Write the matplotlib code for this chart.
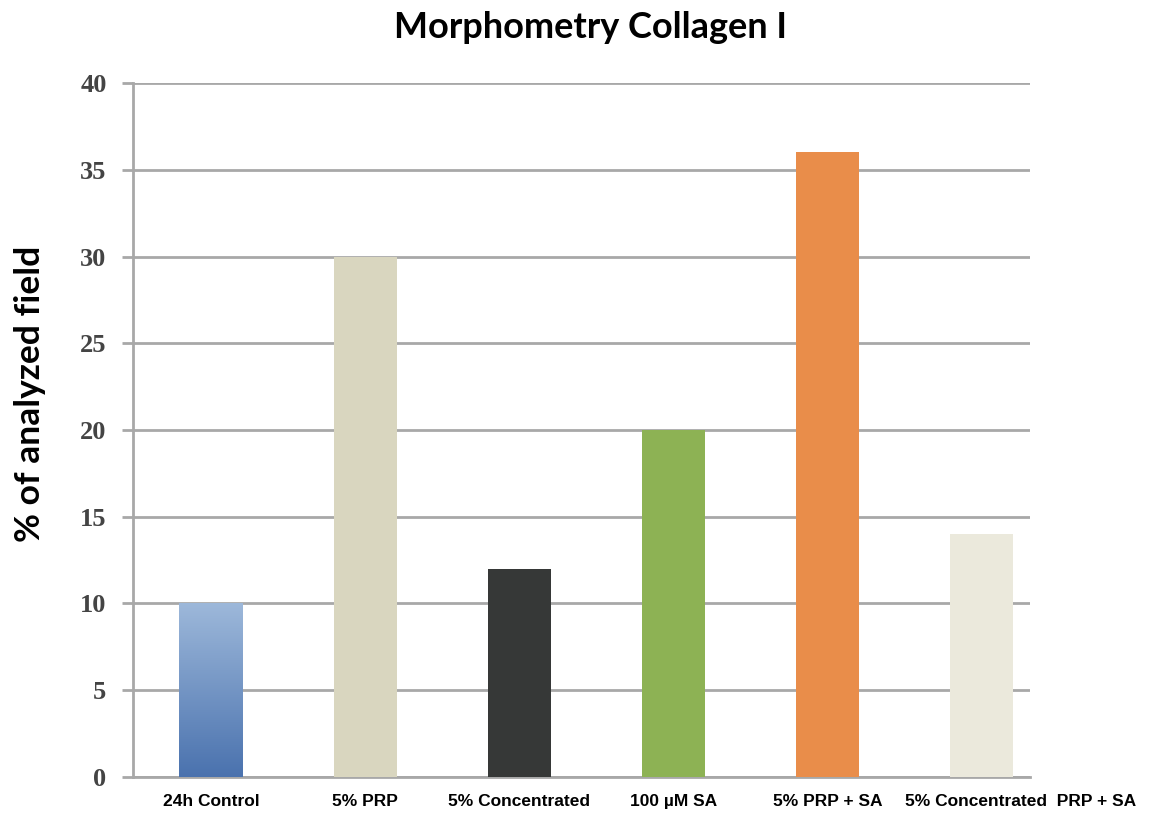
import numpy as np
import matplotlib.pyplot as plt
from matplotlib.colors import LinearSegmentedColormap

categories = ["24h Control", "5% PRP", "5% Concentrated", "100 \u00b5M SA",
              "5% PRP + SA", "5% Concentrated  PRP + SA"]
values = [10, 30, 12, 20, 36, 14]
colors = ["#6d8fc4", "#d9d6bf", "#363837", "#8db254", "#e98d4a", "#ebe9dc"]
yticks = [0, 5, 10, 15, 20, 25, 30, 35, 40]

fig = plt.figure(figsize=(11.53, 8.14), dpi=100)
ax = fig.add_axes([0.1153, 0.0455, 0.7777, 0.8525])

x = np.arange(len(categories))
bars = ax.bar(x, values, width=0.41, color=colors, zorder=3)

# blue gradient on the first bar
cmap = LinearSegmentedColormap.from_list("blu", ["#4a72ae", "#9db8da"])
b = bars[0]
grad = np.linspace(0, 1, 256).reshape(-1, 1)
im = ax.imshow(grad, cmap=cmap, origin="lower", aspect="auto", zorder=4,
               extent=[b.get_x(), b.get_x() + b.get_width(), 0, b.get_height()])
im.set_clip_path(b)

ax.set_xlim(-0.506, 5.31)
ax.set_ylim(0, 40)
ax.set_yticks(yticks)
ax.set_yticklabels([str(t) for t in yticks], fontfamily="Liberation Serif",
                   fontweight="bold", fontsize=19, color="#444444")
ax.yaxis.grid(True, color="#a8a8a8", linewidth=2, zorder=0)
ax.tick_params(axis="y", length=8, width=2, color="#a8a8a8", pad=11)
ax.tick_params(axis="x", length=0, pad=12)

# last label sits a little to the right of its bar, as in the original
label_pos = list(x[:-1]) + [x[-1] + 0.25]
ax.set_xticks(label_pos)
ax.set_xticklabels(categories, fontfamily="Liberation Sans", fontweight="bold",
                   fontsize=12.5)

for s in ["top", "right"]:
    ax.spines[s].set_visible(False)
for s in ["left", "bottom"]:
    ax.spines[s].set_color("#a8a8a8")
    ax.spines[s].set_linewidth(2)

ax.set_ylabel("% of analyzed field", fontfamily="Lato", fontweight="bold",
              fontsize=25.5)
ax.yaxis.set_label_coords(-0.097, 0.552)
fig.text(0.512, 0.966, "Morphometry Collagen I", ha="center", va="center",
         fontfamily="Lato", fontweight="bold", fontsize=26)

fig.savefig("out.png", dpi=100)
